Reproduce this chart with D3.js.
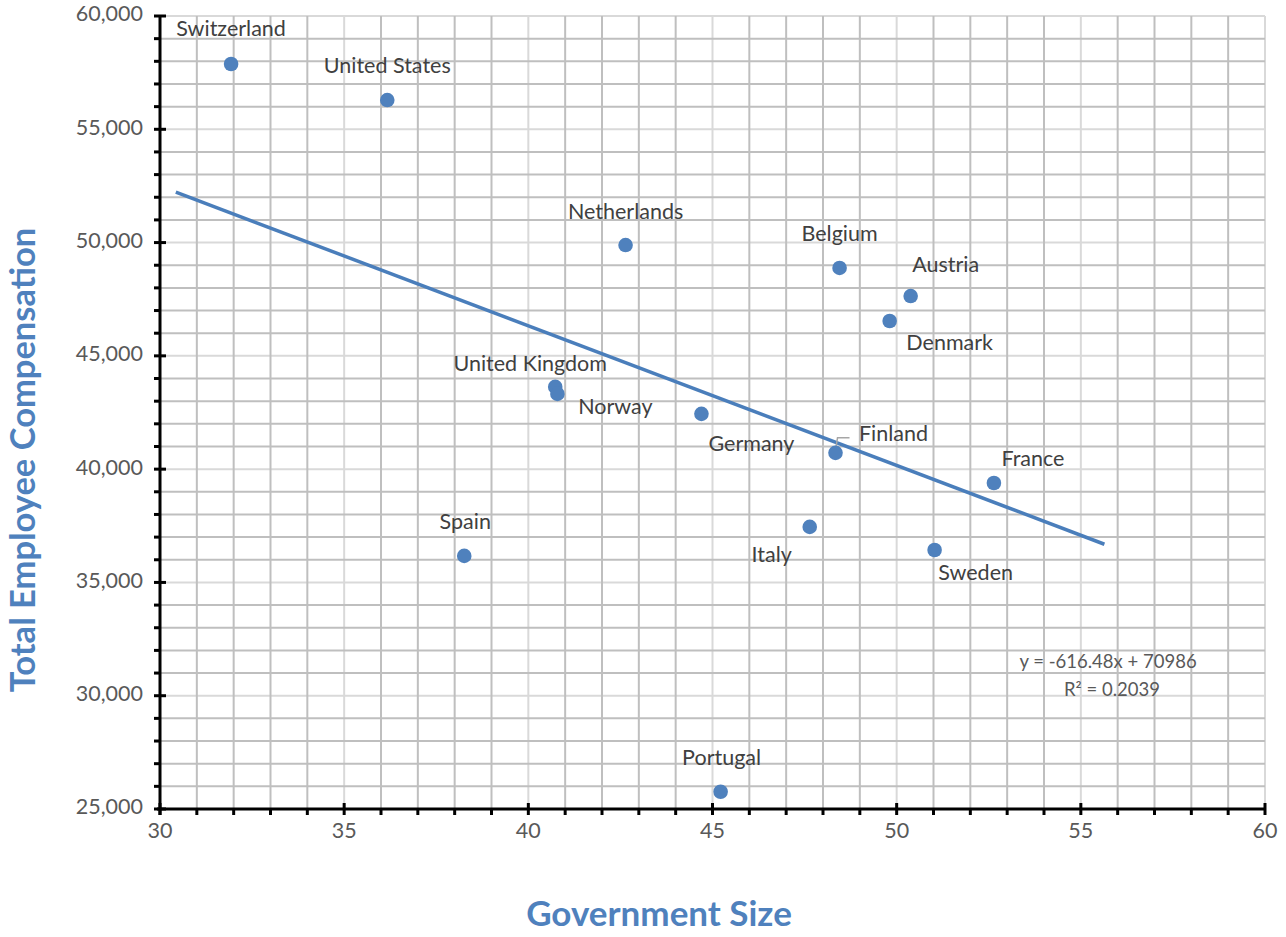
<!DOCTYPE html>
<html>
<head>
<meta charset="utf-8">
<script src="https://cdn.jsdelivr.net/npm/d3@7"></script>
<style>
body { margin: 0; background: #fff; }
svg { display: block; }
text { font-family: Lato, "Open Sans", sans-serif; }
</style>
</head>
<body>
<svg id="chart" width="1286" height="937"></svg>
<script>
// ---- data ----
const countries = ["Switzerland","United States","Netherlands","Belgium","Austria","Denmark","United Kingdom","Norway","Germany","Finland","France","Italy","Sweden","Spain","Portugal"];
const govSize = [31.93, 36.17, 42.64, 48.45, 50.38, 49.81, 40.73, 40.79, 44.70, 48.34, 52.64, 47.64, 51.03, 38.26, 45.22];
const compensation = [57880, 56290, 49890, 48880, 47640, 46540, 43630, 43320, 42440, 40720, 39390, 37450, 36430, 36170, 25760];
const xTicks = [30, 35, 40, 45, 50, 55, 60];
const yTicks = [25000, 30000, 35000, 40000, 45000, 50000, 55000, 60000];
const trendSlope = -616.48;
const trendIntercept = 70986;
const trendRange = [30.43, 55.64];
const equationText = "y = -616.48x + 70986";
const r2Text = "R² = 0.2039";
const xTitle = "Government Size";
const yTitle = "Total Employee Compensation";

// ---- layout (label placements, px offsets from point) ----
const labelPlace = {
  "Switzerland": [0, -33, "middle"],
  "United States": [0, -32, "middle"],
  "Netherlands": [0, -32, "middle"],
  "Belgium": [0, -32, "middle"],
  "Austria": [35, -29, "middle"],
  "Denmark": [60, 24, "middle"],
  "United Kingdom": [-25, -21, "middle"],
  "Norway": [58, 15, "middle"],
  "Germany": [50, 32, "middle"],
  "Finland": [58, -17, "middle"],
  "France": [39, -22, "middle"],
  "Italy": [-38, 30, "middle"],
  "Sweden": [41, 25, "middle"],
  "Spain": [1, -32, "middle"],
  "Portugal": [1, -32, "middle"]
};

const svg = d3.select("#chart");
const pLeft = 160, pRight = 1265, pTop = 16, pBottom = 809;
const x = d3.scaleLinear().domain([30, 60]).range([pLeft, pRight]);
const y = d3.scaleLinear().domain([25000, 60000]).range([pBottom, pTop]);

// gridlines
const minorX = d3.range(31, 60, 1).filter(v => v % 5 !== 0);
const majorX = xTicks.filter(v => v !== 30);
const minorY = d3.range(26000, 60000, 1000).filter(v => v % 5000 !== 0);
const majorY = yTicks.filter(v => v !== 25000);
const g = svg.append("g");
g.selectAll(".gxm").data(majorX).join("line")
  .attr("x1", d => x(d)).attr("x2", d => x(d)).attr("y1", pTop).attr("y2", pBottom)
  .attr("stroke", "#d9d9d9").attr("stroke-width", 2);
g.selectAll(".gym").data(majorY).join("line")
  .attr("y1", d => y(d)).attr("y2", d => y(d)).attr("x1", pLeft).attr("x2", pRight)
  .attr("stroke", "#d9d9d9").attr("stroke-width", 2);
g.selectAll(".gx").data(minorX).join("line")
  .attr("x1", d => x(d)).attr("x2", d => x(d)).attr("y1", pTop).attr("y2", pBottom)
  .attr("stroke", "#bfbfbf").attr("stroke-width", 2);
g.selectAll(".gy").data(minorY).join("line")
  .attr("y1", d => y(d)).attr("y2", d => y(d)).attr("x1", pLeft).attr("x2", pRight)
  .attr("stroke", "#bfbfbf").attr("stroke-width", 2);

// axes
const axisColor = "#000";
const xa = svg.append("g");
xa.append("line").attr("x1", pLeft - 3).attr("x2", pRight + 1).attr("y1", pBottom).attr("y2", pBottom)
  .attr("stroke", axisColor).attr("stroke-width", 3);
xa.selectAll(".mt").data(minorX).join("line")
  .attr("x1", d => x(d)).attr("x2", d => x(d)).attr("y1", pBottom).attr("y2", pBottom + 6)
  .attr("stroke", axisColor).attr("stroke-width", 3);
xa.selectAll(".Mt").data(xTicks).join("line")
  .attr("x1", d => x(d)).attr("x2", d => x(d)).attr("y1", pBottom - 6).attr("y2", pBottom + 6)
  .attr("stroke", axisColor).attr("stroke-width", 3);
xa.selectAll("text").data(xTicks).join("text")
  .attr("x", d => x(d)).attr("y", pBottom + 24)
  .attr("dominant-baseline", "middle").attr("text-anchor", "middle")
  .attr("font-size", 21.5).attr("fill", "#595959").text(d => d);
const ya = svg.append("g");
ya.append("line").attr("x1", pLeft).attr("x2", pLeft).attr("y1", pTop - 1).attr("y2", pBottom + 6)
  .attr("stroke", axisColor).attr("stroke-width", 3);
ya.selectAll(".mt").data(minorY).join("line")
  .attr("x1", pLeft - 6).attr("x2", pLeft).attr("y1", d => y(d)).attr("y2", d => y(d))
  .attr("stroke", axisColor).attr("stroke-width", 3);
ya.selectAll(".Mt").data(yTicks).join("line")
  .attr("x1", pLeft - 6).attr("x2", pLeft + 6).attr("y1", d => y(d)).attr("y2", d => y(d))
  .attr("stroke", axisColor).attr("stroke-width", 3);
ya.selectAll("text").data(yTicks).join("text")
  .attr("x", pLeft - 17).attr("y", d => y(d))
  .attr("dominant-baseline", "middle").attr("text-anchor", "end")
  .attr("font-size", 21.5).attr("fill", "#595959").text(d => d3.format(",")(d));

// trendline
svg.append("line")
  .attr("x1", x(trendRange[0])).attr("y1", y(trendSlope * trendRange[0] + trendIntercept))
  .attr("x2", x(trendRange[1])).attr("y2", y(trendSlope * trendRange[1] + trendIntercept))
  .attr("stroke", "#4a7ebb").attr("stroke-width", 3.5);

// leader line for Finland
const fi = countries.indexOf("Finland");
svg.append("polyline")
  .attr("points", [[x(govSize[fi]), y(compensation[fi]) - 3], [x(govSize[fi]) + 2, y(compensation[fi]) - 15], [x(govSize[fi]) + 14, y(compensation[fi]) - 15]].map(p => p.join(",")).join(" "))
  .attr("fill", "none").attr("stroke", "#a6a6a6").attr("stroke-width", 1.5);

// points
const data = countries.map((c, i) => ({ c, gx: govSize[i], cy: compensation[i] }));
svg.selectAll("circle.pt").data(data).join("circle")
  .attr("cx", d => x(d.gx)).attr("cy", d => y(d.cy)).attr("r", 7.3)
  .attr("fill", "#4f81bd");

// labels
svg.selectAll("text.lbl").data(data).join("text")
  .attr("x", d => x(d.gx) + labelPlace[d.c][0])
  .attr("y", d => y(d.cy) + labelPlace[d.c][1])
  .attr("text-anchor", d => labelPlace[d.c][2])
  .attr("dominant-baseline", "middle")
  .attr("font-size", 21.5).attr("fill", "#404040").text(d => d.c);

// equation
svg.append("text").attr("x", 1108).attr("y", 663).attr("text-anchor", "middle")
  .attr("dominant-baseline", "middle").attr("font-size", 18.5).attr("fill", "#595959").text(equationText);
svg.append("text").attr("x", 1112).attr("y", 691).attr("text-anchor", "middle")
  .attr("dominant-baseline", "middle").attr("font-size", 18.5).attr("fill", "#595959").text(r2Text);

// axis titles
svg.append("text").attr("x", 659).attr("y", 917).attr("text-anchor", "middle")
  .attr("dominant-baseline", "middle").attr("font-size", 35).attr("font-weight", "bold")
  .attr("fill", "#4f81bd").text(xTitle);
svg.append("text").attr("transform", "translate(26,460) rotate(-90)").attr("text-anchor", "middle")
  .attr("dominant-baseline", "middle").attr("font-size", 34.5).attr("font-weight", "bold")
  .attr("fill", "#4f81bd").text(yTitle);
</script>
</body>
</html>
